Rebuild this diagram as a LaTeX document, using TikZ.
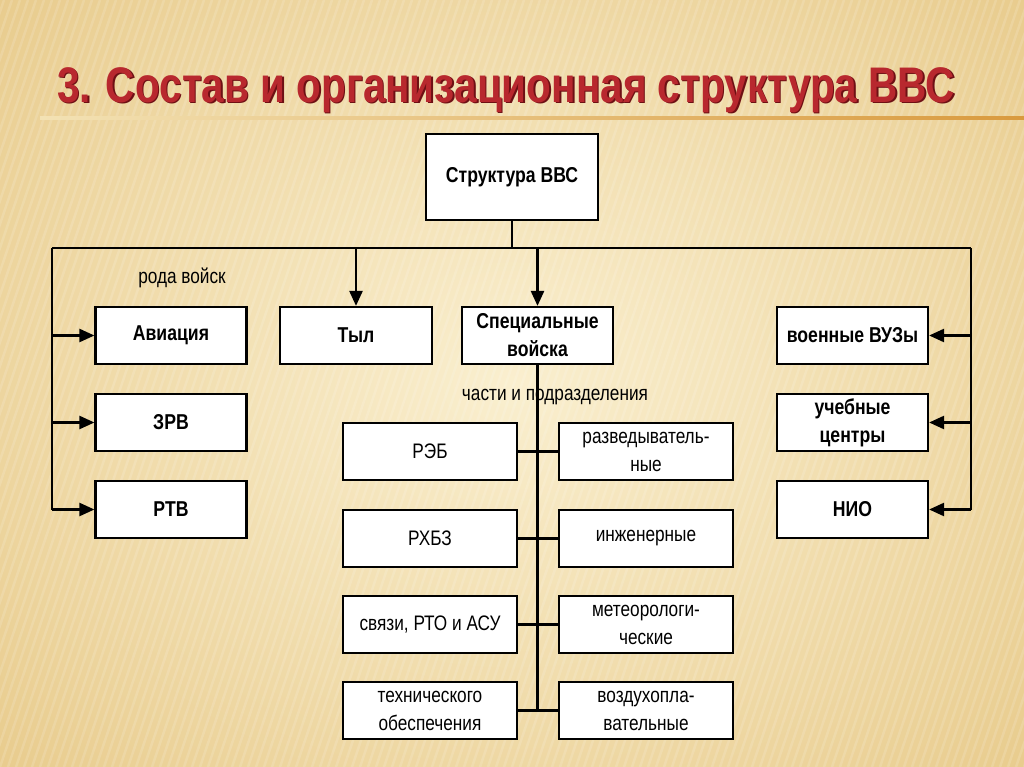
\documentclass[tikz,border=0pt]{standalone}
\usepackage{fontspec}
\setmainfont{Liberation Sans}
\newfontfamily\titlefont[FakeStretch=0.81]{Liberation Sans}
\newfontfamily\narrowfont[FakeStretch=0.82]{Liberation Sans}
\usetikzlibrary{arrows.meta}
\definecolor{bgA}{HTML}{FAEFCF}
\definecolor{bgB}{HTML}{E8CB8C}
\definecolor{titlered}{HTML}{B8282E}
\definecolor{titledark}{HTML}{6E1014}
\definecolor{lineor}{HTML}{D99A3E}
\definecolor{linepale}{HTML}{F3E2B4}
\begin{document}
\begin{tikzpicture}[x=1pt,y=-1pt,
  bigbox/.style={draw=black,line width=2.2pt,fill=white,minimum width=151pt,minimum height=57pt,inner sep=0pt,
    font=\narrowfont\fontsize{21.5}{28}\selectfont\bfseries,align=center},
  smallbox/.style={draw=black,line width=2.2pt,fill=white,minimum width=174pt,minimum height=57pt,inner sep=0pt,
    font=\narrowfont\fontsize{21}{28}\selectfont,align=center},
  conn/.style={line width=2.4pt,draw=black},
  arr/.style={conn,-{Triangle[length=15pt,width=13pt]}},
  lbl/.style={font=\narrowfont\fontsize{21}{24}\selectfont,inner sep=0pt}]
\useasboundingbox (0,0) rectangle (1024,767);
\begin{scope}
\clip (0,0) rectangle (1024,767);
\shade[inner color=bgA,outer color=bgB] (-200,-200) rectangle (1224,967);
\foreach \i in {-400,-392,...,1024}
  \draw[white,opacity=0.14,line width=2.5pt] (\i,767) -- (\i+260,0);
\end{scope}
% title
\node[font=\titlefont\fontsize{50}{55}\selectfont\bfseries,text=titledark] at (507.5,91.5) {3. Состав и организационная структура ВВС};
\node[font=\titlefont\fontsize{50}{55}\selectfont\bfseries,text=titlered] (title) at (506,90) {3. Состав и организационная структура ВВС};
\shade[left color=linepale,right color=lineor] (40,116.5) rectangle (1024,119.5);
% top
\node[bigbox,minimum width=172pt,minimum height=86pt] (top) at (512,177) {Структура ВВС};
% left column
\node[bigbox] (av) at (171,335.5) {Авиация};
\node[bigbox] (zrv) at (171,422.5) {ЗРВ};
\node[bigbox] (rtv) at (171,509.5) {РТВ};
% middle
\node[bigbox,minimum width=152pt] (tyl) at (356,335.5) {Тыл};
\node[bigbox] (spec) at (537.5,335.5) {Специальные\\войска};
% right column
\node[bigbox] (vuz) at (852.5,335.5) {военные ВУЗы};
\node[bigbox] (uch) at (852.5,422.5) {учебные\\центры};
\node[bigbox] (nio) at (852.5,509.5) {НИО};
% small boxes
\node[smallbox] (reb) at (430,451.5) {РЭБ};
\node[smallbox] (rhbz) at (430,538.5) {РХБЗ};
\node[smallbox] (svz) at (430,624.5) {связи, РТО и АСУ};
\node[smallbox] (teh) at (430,710.5) {технического\\обеспечения};
\node[smallbox] (razv) at (646,451.5) {разведыватель-\\ные};
\node[smallbox] (inzh) at (646,538.5) {инженерные};
\node[smallbox] (met) at (646,624.5) {метеорологи-\\ческие};
\node[smallbox] (voz) at (646,710.5) {воздухопла-\\вательные};
% labels
\node[lbl] (rv) at (182,278) {рода войск};
\node[lbl] (chp) at (555,397) {части и подразделения};
% bus
\coordinate (bl) at (52,248);
\coordinate (br) at (971,248);
\draw[conn] (top.south) -- (top.south |- bl);
\draw[conn] (bl) -- (br);
\draw[conn] (bl) -- (bl |- rtv.west);
\draw[conn] (br) -- (br |- nio.east);
\draw[arr] (bl |- av.west) -- (av.west);
\draw[arr] (bl |- zrv.west) -- (zrv.west);
\draw[arr] (bl |- rtv.west) -- (rtv.west);
\draw[arr] (br |- vuz.east) -- (vuz.east);
\draw[arr] (br |- uch.east) -- (uch.east);
\draw[arr] (br |- nio.east) -- (nio.east);
\draw[arr] (tyl.north |- bl) -- (tyl.north);
\draw[arr] (spec.north |- bl) -- (spec.north);
% special troops tree
\draw[conn] (spec.south) -- (spec.south |- teh.east);
\draw[conn] (reb.east) -- (razv.west);
\draw[conn] (rhbz.east) -- (inzh.west);
\draw[conn] (svz.east) -- (met.west);
\draw[conn] (teh.east) -- (voz.west);
\end{tikzpicture}
\end{document}
